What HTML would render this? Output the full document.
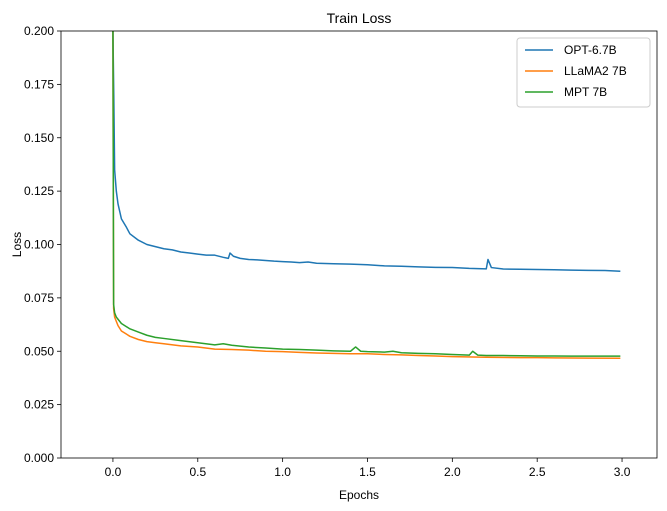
<!DOCTYPE html>
<html><head><meta charset="utf-8"><style>
body{margin:0;background:#fff;}
svg{display:block;font-family:"Liberation Sans","DejaVu Sans",sans-serif;}
</style></head><body>
<svg id="chart" width="667" height="511"></svg>
<script>
const xTicks=[0.0,0.5,1.0,1.5,2.0,2.5,3.0];
const xTickLabels=["0.0","0.5","1.0","1.5","2.0","2.5","3.0"];
const yTicks=[0,0.025,0.05,0.075,0.1,0.125,0.15,0.175,0.2];
const yTickLabels=["0.000","0.025","0.050","0.075","0.100","0.125","0.150","0.175","0.200"];
const seriesNames=["OPT-6.7B","LLaMA2 7B","MPT 7B"];
const optX=[0,0.005,0.01,0.02,0.03,0.05,0.08,0.1,0.15,0.2,0.25,0.3,0.35,0.4,0.45,0.5,0.55,0.6,0.65,0.68,0.69,0.71,0.75,0.8,0.85,0.9,0.95,1.0,1.05,1.1,1.15,1.2,1.3,1.4,1.5,1.6,1.7,1.8,1.9,2.0,2.1,2.2,2.21,2.23,2.3,2.4,2.5,2.6,2.7,2.8,2.9,2.99];
const optY=[0.2,0.17,0.135,0.125,0.119,0.112,0.108,0.105,0.102,0.1,0.099,0.098,0.0975,0.0965,0.096,0.0955,0.095,0.095,0.094,0.0935,0.096,0.0945,0.0935,0.093,0.0928,0.0925,0.0922,0.092,0.0918,0.0915,0.0918,0.0912,0.091,0.0908,0.0905,0.09,0.0898,0.0895,0.0893,0.0892,0.0888,0.0886,0.093,0.0892,0.0885,0.0884,0.0883,0.0882,0.088,0.0879,0.0878,0.0875];
const llamaX=[0,0.004,0.01,0.02,0.03,0.05,0.08,0.1,0.15,0.2,0.25,0.3,0.4,0.5,0.6,0.7,0.8,0.9,1.0,1.1,1.2,1.3,1.4,1.5,1.6,1.7,1.8,1.9,2.0,2.2,2.4,2.5,2.6,2.8,2.99];
const llamaY=[0.2,0.07,0.066,0.064,0.062,0.0595,0.058,0.057,0.0555,0.0545,0.054,0.0535,0.0525,0.052,0.051,0.0508,0.0505,0.05,0.0498,0.0495,0.0492,0.049,0.0488,0.0488,0.0485,0.0483,0.048,0.0478,0.0475,0.0472,0.047,0.047,0.0469,0.0468,0.0467];
const mptX=[0,0.004,0.01,0.02,0.03,0.05,0.08,0.1,0.15,0.2,0.25,0.3,0.4,0.5,0.6,0.65,0.7,0.8,0.9,1.0,1.1,1.2,1.3,1.4,1.43,1.46,1.5,1.6,1.65,1.7,1.8,1.9,2.0,2.1,2.12,2.15,2.2,2.3,2.4,2.5,2.6,2.7,2.8,2.9,2.99];
const mptY=[0.2,0.072,0.068,0.066,0.065,0.063,0.0615,0.0605,0.059,0.0575,0.0565,0.056,0.055,0.054,0.053,0.0535,0.0528,0.052,0.0515,0.051,0.0508,0.0505,0.0502,0.05,0.052,0.05,0.0498,0.0496,0.05,0.0493,0.049,0.0488,0.0485,0.0482,0.05,0.0482,0.048,0.048,0.0479,0.0478,0.0478,0.0477,0.0477,0.0477,0.0477];
const colors=["#1f77b4","#ff7f0e","#2ca02c"];
const L=61,R=657,T=31,B=458,xmin=-0.306,xmax=3.206,ymin=0,ymax=0.2;
const sx=v=>L+(v-xmin)/(xmax-xmin)*(R-L);
const sy=v=>B-(v-ymin)/(ymax-ymin)*(B-T);
const svg=document.getElementById('chart');
const NS="http://www.w3.org/2000/svg";
function mk(tag,attrs,parent){const e=document.createElementNS(NS,tag);for(const k in attrs)e.setAttribute(k,attrs[k]);(parent||svg).appendChild(e);return e;}
const clip=mk('clipPath',{id:'pc'});mk('rect',{x:L,y:T,width:R-L,height:B-T},clip);
const title=mk('text',{x:(L+R)/2,y:23,'text-anchor':'middle','font-size':14,fill:'#000'});title.textContent="Train Loss";


xTicks.forEach((v,i)=>{const g=mk('g',{});


mk('line',{x1:sx(v),x2:sx(v),y1:B,y2:B+4,stroke:'#000','stroke-width':0.8},g);
const t=mk('text',{x:sx(v),y:B+18,'text-anchor':'middle','font-size':12},g);t.textContent=xTickLabels[i];});
yTicks.forEach((v,i)=>{const g=mk('g',{});


mk('line',{x1:L-4,x2:L,y1:sy(v),y2:sy(v),stroke:'#000','stroke-width':0.8},g);
const t=mk('text',{x:L-7,y:sy(v)+4,'text-anchor':'end','font-size':12},g);t.textContent=yTickLabels[i];});
const xl=mk('text',{x:(L+R)/2,y:499,'text-anchor':'middle','font-size':12});xl.textContent="Epochs";


const yl=mk('text',{x:21,y:(T+B)/2,'text-anchor':'middle','font-size':12,transform:`rotate(-90 21 ${(T+B)/2})`});yl.textContent="Loss";


[[optX,optY],[llamaX,llamaY],[mptX,mptY]].forEach((s,k)=>{
const d=s[0].map((x,i)=>(i?'L':'M')+sx(x).toFixed(2)+','+sy(s[1][i]).toFixed(2)).join(' ');
const p=mk('path',{d:d,fill:'none',stroke:colors[k],'stroke-width':1.5,'clip-path':'url(#pc)','stroke-linejoin':'round'});

});
const frame=mk('rect',{x:L,y:T,width:R-L,height:B-T,fill:'none',stroke:'#000','stroke-width':0.8});


const lg=mk('g',{});


mk('rect',{x:517,y:38,width:133,height:69,rx:3,fill:'#fff',stroke:'#ccc','stroke-width':1},lg);
seriesNames.forEach((n,i)=>{const g=mk('g',{},lg);


const y=50+i*21;mk('line',{x1:525,x2:553,y1:y,y2:y,stroke:colors[i],'stroke-width':1.5},g);
const t=mk('text',{x:564,y:y+4,'font-size':12},g);t.textContent=n;});
</script>
</body></html>
